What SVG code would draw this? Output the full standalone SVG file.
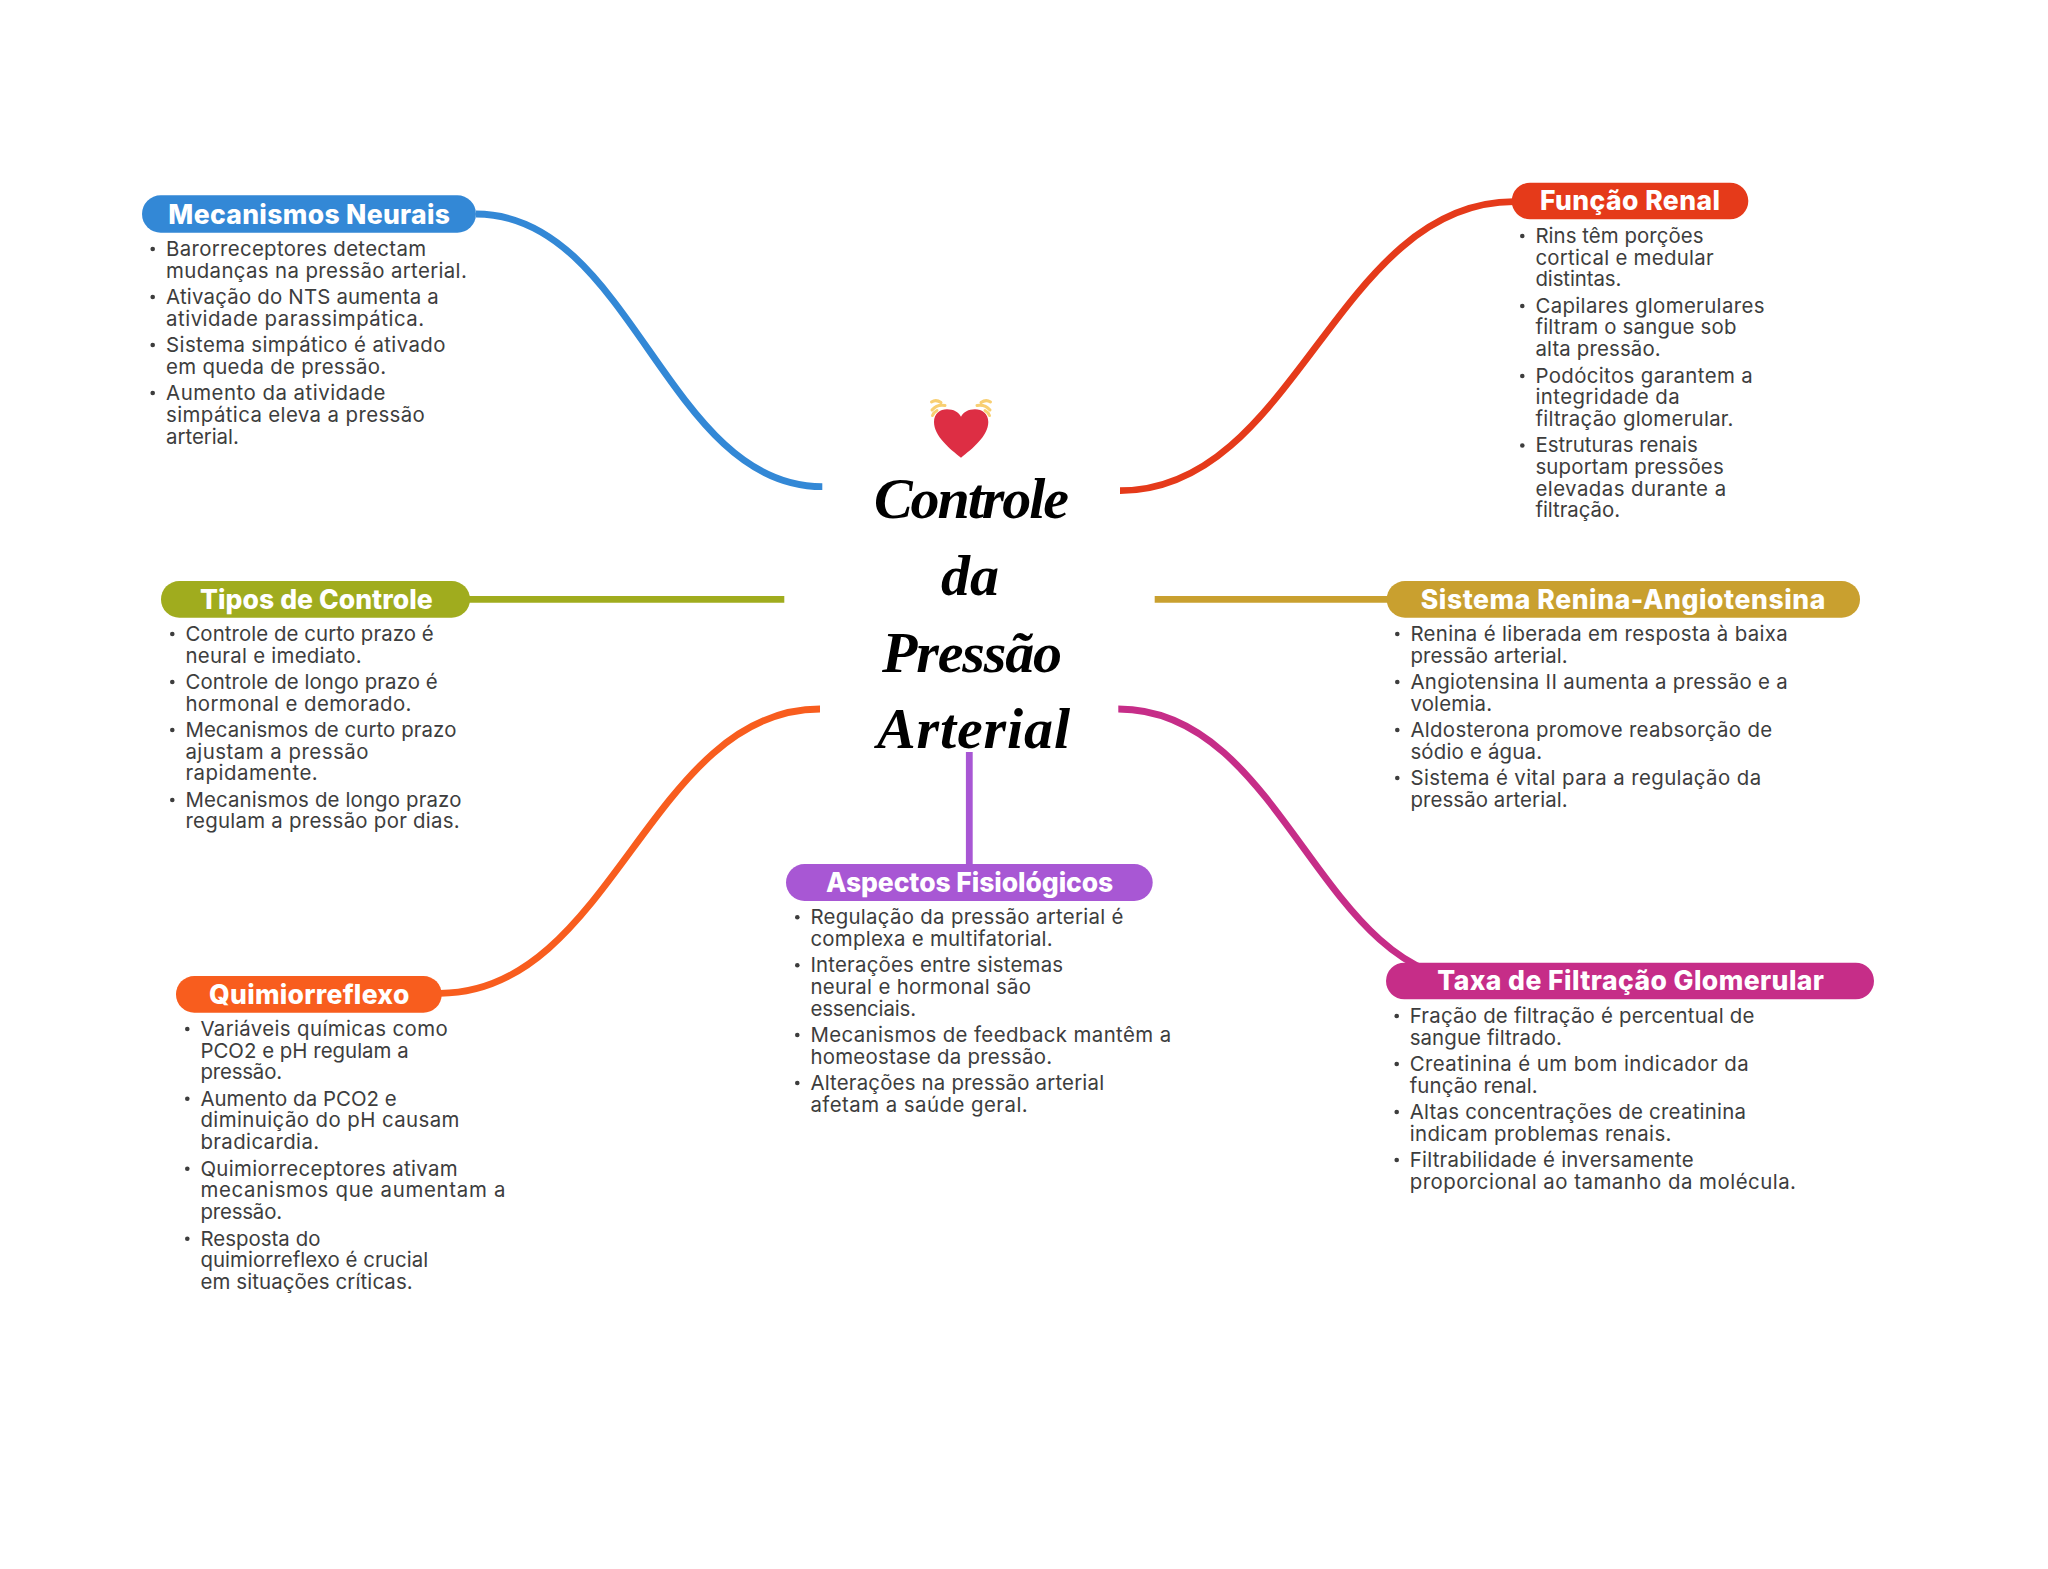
<svg xmlns="http://www.w3.org/2000/svg" width="2048" height="1569" viewBox="0 0 2048 1569">
<style>
.b{font:400 20.4px Inter,"Noto Sans",sans-serif;fill:#3d3d3d;transform:translate(-.6px,.4px)}
.t{font:800 26.5px Inter,"Noto Sans",sans-serif;fill:#fff;transform:translate(0,1px)}
.c{font:italic 700 58px "Liberation Serif",serif;fill:#000}
.d{fill:#3d3d3d}
.l{fill:none;stroke-width:6.8}
.r{fill:none;stroke:#F8CF72;stroke-width:3;stroke-linecap:round}
</style>
<rect width="2048" height="1569" fill="#fff"/>
<g id="connectors">
<path class="l" stroke="#3388D6" d="M476 214C632 214 666 486.700 822.300 486.700"/>
<path class="l" stroke="#E53A1A" d="M1120 490.700C1296 490.700 1336 201.700 1514 201.700"/>
<path class="l" stroke="#A0AC1E" d="M468 599.300H784.300"/>
<path class="l" stroke="#C9A02F" d="M1154.700 599.300H1389"/>
<path class="l" stroke="#F85D1E" d="M820 709C650 709 612 993.300 440 993.300"/>
<path class="l" stroke="#A857D4" d="M969.300 752V866"/>
<path class="l" stroke="#C62D88" d="M1118.300 709C1285 709 1320 981 1478 981"/>
</g>
<g id="center">
<path fill="#DD2E44" d="M961 457.700C950 449 934 436 934 422C934 413.500 940 409.300 947 409.300C953.500 409.300 958.500 412 961 416.700C963.500 412 968.500 409.300 975 409.300C982 409.300 988.300 413.500 988.300 422C988.300 436 972 449 961 457.700Z"/>
<path class="r" d="M931.500 402Q936 399 941 402.500M932 410Q937 404 945 405.500M932.500 415.500Q934 412 937 410.500M990.500 402Q986 399 981 402.500M990 410Q985 404 977 405.500M989.500 415.500Q988 412 985 410.500"/>
<text class="c" x="874" y="518" textLength="195">Controle</text>
<text class="c" x="941" y="595">da</text>
<text class="c" x="882" y="672" textLength="180">Pressão</text>
<text class="c" x="877" y="748" textLength="193">Arterial</text>
</g>
<g id="node-mecanismos-neurais">
<rect x="142" y="195.300" width="334" height="37.400" rx="18.700" fill="#3388D6"/>
<text class="t" x="168.300" y="222.700" textLength="281.700">Mecanismos Neurais</text>
<circle class="d" cx="152.700" cy="249" r="2.300"/><circle class="d" cx="152.700" cy="297" r="2.300"/><circle class="d" cx="152.700" cy="345" r="2.300"/><circle class="d" cx="152.700" cy="393" r="2.300"/>
<text class="b" x="166.700" y="256" textLength="260">Barorreceptores detectam</text>
<text class="b" x="166.700" y="277.700" textLength="300.700">mudanças na pressão arterial.</text>
<text class="b" x="166.700" y="304" textLength="272.700">Ativação do NTS aumenta a</text>
<text class="b" x="166.700" y="325.700" textLength="258">atividade parassimpática.</text>
<text class="b" x="166.700" y="352" textLength="279.300">Sistema simpático é ativado</text>
<text class="b" x="166.700" y="373.700" textLength="220">em queda de pressão.</text>
<text class="b" x="166.700" y="400" textLength="219.300">Aumento da atividade</text>
<text class="b" x="166.700" y="421.700" textLength="258.700">simpática eleva a pressão</text>
<text class="b" x="166.700" y="443.300" textLength="72.700">arterial.</text>
</g>
<g id="node-funcao-renal">
<rect x="1511.700" y="182.700" width="236.600" height="36.600" rx="18.300" fill="#E53A1A"/>
<text class="t" x="1540" y="209.300" textLength="180">Função Renal</text>
<circle class="d" cx="1522.300" cy="236" r="2.300"/><circle class="d" cx="1522.300" cy="306" r="2.300"/><circle class="d" cx="1522.300" cy="376" r="2.300"/><circle class="d" cx="1522.300" cy="445.500" r="2.300"/>
<text class="b" x="1536" y="242.800" textLength="168">Rins têm porções</text>
<text class="b" x="1536" y="264.400" textLength="178.300">cortical e medular</text>
<text class="b" x="1536" y="285.700" textLength="86">distintas.</text>
<text class="b" x="1536" y="312.300" textLength="229">Capilares glomerulares</text>
<text class="b" x="1536" y="334" textLength="201">filtram o sangue sob</text>
<text class="b" x="1536" y="355.700" textLength="125.300">alta pressão.</text>
<text class="b" x="1536" y="382.300" textLength="217.300">Podócitos garantem a</text>
<text class="b" x="1536" y="404" textLength="144.300">integridade da</text>
<text class="b" x="1536" y="425.700" textLength="198">filtração glomerular.</text>
<text class="b" x="1536" y="452" textLength="162.300">Estruturas renais</text>
<text class="b" x="1536" y="473.700" textLength="188.300">suportam pressões</text>
<text class="b" x="1536" y="495.300" textLength="190.700">elevadas durante a</text>
<text class="b" x="1536" y="517" textLength="84.700">filtração.</text>
</g>
<g id="node-tipos-de-controle">
<rect x="161" y="581" width="309" height="36.700" rx="18.300" fill="#A0AC1E"/>
<text class="t" x="200" y="607.700" textLength="232.700">Tipos de Controle</text>
<circle class="d" cx="172.300" cy="634" r="2.300"/><circle class="d" cx="172.300" cy="682" r="2.300"/><circle class="d" cx="172.300" cy="730" r="2.300"/><circle class="d" cx="172.300" cy="800" r="2.300"/>
<text class="b" x="186" y="640.700" textLength="248.300">Controle de curto prazo é</text>
<text class="b" x="186" y="662.400" textLength="176.300">neural e imediato.</text>
<text class="b" x="186" y="688.700" textLength="252.300">Controle de longo prazo é</text>
<text class="b" x="186" y="710.400" textLength="226">hormonal e demorado.</text>
<text class="b" x="186" y="736.700" textLength="271">Mecanismos de curto prazo</text>
<text class="b" x="186" y="758.400" textLength="183">ajustam a pressão</text>
<text class="b" x="186" y="780" textLength="132.300">rapidamente.</text>
<text class="b" x="186" y="806.400" textLength="276">Mecanismos de longo prazo</text>
<text class="b" x="186" y="828" textLength="274.300">regulam a pressão por dias.</text>
</g>
<g id="node-sistema-renina-angiotensina">
<rect x="1386.700" y="581" width="473.300" height="36.700" rx="18.300" fill="#C9A02F"/>
<text class="t" x="1420.700" y="607.700" textLength="404.600">Sistema Renina-Angiotensina</text>
<circle class="d" cx="1397.300" cy="634" r="2.300"/><circle class="d" cx="1397.300" cy="682" r="2.300"/><circle class="d" cx="1397.300" cy="730" r="2.300"/><circle class="d" cx="1397.300" cy="778" r="2.300"/>
<text class="b" x="1411" y="640.700" textLength="377.300">Renina é liberada em resposta à baixa</text>
<text class="b" x="1411" y="662.400" textLength="157.300">pressão arterial.</text>
<text class="b" x="1411" y="688.700" textLength="377.300">Angiotensina II aumenta a pressão e a</text>
<text class="b" x="1411" y="710.400" textLength="81.700">volemia.</text>
<text class="b" x="1411" y="736.700" textLength="361.700">Aldosterona promove reabsorção de</text>
<text class="b" x="1411" y="758.400" textLength="131.700">sódio e água.</text>
<text class="b" x="1411" y="784.700" textLength="350.700">Sistema é vital para a regulação da</text>
<text class="b" x="1411" y="806.400" textLength="157.300">pressão arterial.</text>
</g>
<g id="node-aspectos-fisiologicos">
<rect x="786" y="864" width="366.700" height="37" rx="18.500" fill="#A857D4"/>
<text class="t" x="826" y="891" textLength="287.300">Aspectos Fisiológicos</text>
<circle class="d" cx="797.300" cy="917.300" r="2.300"/><circle class="d" cx="797.300" cy="965.300" r="2.300"/><circle class="d" cx="797.300" cy="1035" r="2.300"/><circle class="d" cx="797.300" cy="1083" r="2.300"/>
<text class="b" x="811" y="924" textLength="313">Regulação da pressão arterial é</text>
<text class="b" x="811" y="945.700" textLength="242.300">complexa e multifatorial.</text>
<text class="b" x="811" y="972" textLength="252.700">Interações entre sistemas</text>
<text class="b" x="811" y="993.700" textLength="220.700">neural e hormonal são</text>
<text class="b" x="811" y="1015.400" textLength="105.700">essenciais.</text>
<text class="b" x="811" y="1041.700" textLength="360.700">Mecanismos de feedback mantêm a</text>
<text class="b" x="811" y="1063.400" textLength="241.700">homeostase da pressão.</text>
<text class="b" x="811" y="1089.700" textLength="293.700">Alterações na pressão arterial</text>
<text class="b" x="811" y="1111.400" textLength="217.300">afetam a saúde geral.</text>
</g>
<g id="node-quimiorreflexo">
<rect x="176" y="976" width="265.700" height="36.700" rx="18.300" fill="#F85D1E"/>
<text class="t" x="209" y="1002.700" textLength="200.300">Quimiorreflexo</text>
<circle class="d" cx="187.300" cy="1029" r="2.300"/><circle class="d" cx="187.300" cy="1098.700" r="2.300"/><circle class="d" cx="187.300" cy="1168.700" r="2.300"/><circle class="d" cx="187.300" cy="1238.700" r="2.300"/>
<text class="b" x="201" y="1035.700" textLength="247.300">Variáveis químicas como</text>
<text class="b" x="201" y="1057.400" textLength="208.300">PCO2 e pH regulam a</text>
<text class="b" x="201" y="1079" textLength="81.700">pressão.</text>
<text class="b" x="201" y="1105.400" textLength="196.300">Aumento da PCO2 e</text>
<text class="b" x="201" y="1127" textLength="259">diminuição do pH causam</text>
<text class="b" x="201" y="1148.700" textLength="118.700">bradicardia.</text>
<text class="b" x="201" y="1175.300" textLength="257.300">Quimiorreceptores ativam</text>
<text class="b" x="201" y="1197" textLength="305">mecanismos que aumentam a</text>
<text class="b" x="201" y="1218.700" textLength="81.700">pressão.</text>
<text class="b" x="201" y="1245.300" textLength="120">Resposta do</text>
<text class="b" x="201" y="1267" textLength="227.700">quimiorreflexo é crucial</text>
<text class="b" x="201" y="1288.700" textLength="212.300">em situações críticas.</text>
</g>
<g id="node-taxa-de-filtracao-glomerular">
<rect x="1386" y="962.700" width="488" height="36.600" rx="18.300" fill="#C62D88"/>
<text class="t" x="1437.300" y="989.300" textLength="386.700">Taxa de Filtração Glomerular</text>
<circle class="d" cx="1396.700" cy="1016" r="2.300"/><circle class="d" cx="1396.700" cy="1064" r="2.300"/><circle class="d" cx="1396.700" cy="1112" r="2.300"/><circle class="d" cx="1396.700" cy="1160" r="2.300"/>
<text class="b" x="1410.300" y="1022.700" textLength="344.700">Fração de filtração é percentual de</text>
<text class="b" x="1410.300" y="1044.400" textLength="152.300">sangue filtrado.</text>
<text class="b" x="1410.300" y="1070.700" textLength="339">Creatinina é um bom indicador da</text>
<text class="b" x="1410.300" y="1092.400" textLength="128">função renal.</text>
<text class="b" x="1410.300" y="1118.700" textLength="336.300">Altas concentrações de creatinina</text>
<text class="b" x="1410.300" y="1140.400" textLength="261.700">indicam problemas renais.</text>
<text class="b" x="1410.300" y="1166.700" textLength="284">Filtrabilidade é inversamente</text>
<text class="b" x="1410.300" y="1188.400" textLength="386.300">proporcional ao tamanho da molécula.</text>
</g>
</svg>
